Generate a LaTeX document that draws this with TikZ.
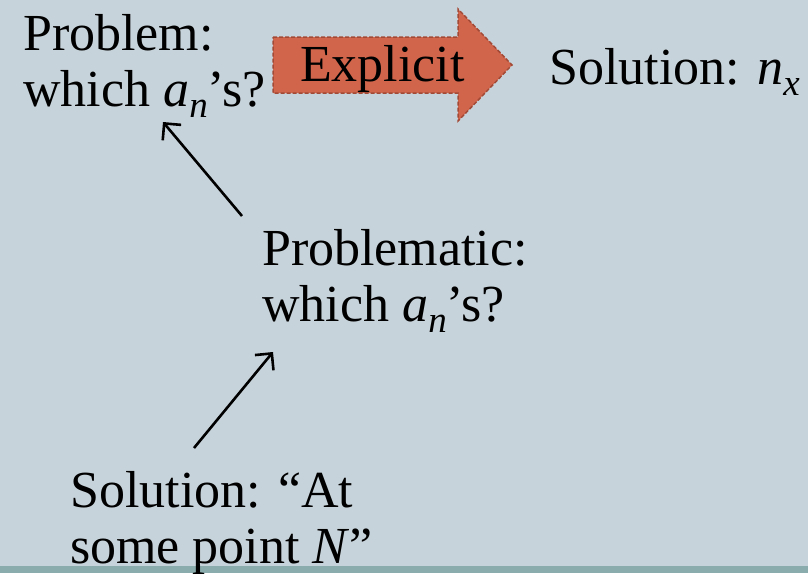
\documentclass[tikz,border=0pt]{standalone}
\usepackage{fontspec}
\setmainfont{Liberation Serif}
\usetikzlibrary{arrows.meta}
\definecolor{bg}{HTML}{C7D3DA}
\definecolor{band}{HTML}{8AACAD}
\definecolor{arrfill}{HTML}{D0654B}
\definecolor{arrdraw}{HTML}{A34A37}
\newcommand{\mysub}[1]{\raisebox{-11pt}{\fontsize{37}{37}\selectfont\itshape #1}}
\begin{document}
\begin{tikzpicture}[x=1pt,y=-1pt,
  txt/.style={anchor=base west, inner sep=0pt, align=left, font=\fontsize{52}{56}\selectfont},
  conn/.style={line width=2.6pt, -{Straight Barb[length=12pt,width=24pt,line width=2.6pt]}},
  bigarrow/.style={fill=arrfill, draw=arrdraw, dash pattern=on 4pt off 2pt, line width=1.5pt}]
\fill[bg] (0,0) rectangle (808,573);
\fill[band] (0,566) rectangle (808,573);
\useasboundingbox (0,0) rectangle (808,573);
% big arrow
\draw[bigarrow] (273,37) -- (458,37) -- (458,9) -- (512,65) -- (458,121) -- (458,93) -- (273,93) -- cycle;
\node[txt] (explicit) at (300,81) {Explicit};
% texts (base anchor = baseline of the last line)
\node[txt] (problem) at (23,106) {Problem:\\which \textit{a}\mysub{n}’s?};
\node[txt] (solnx) at (549,84) {Solution: \textit{n}\mysub{x}};
\node[txt] (problematic) at (262,321) {Problematic:\\which \textit{a}\mysub{n}’s?};
\node[txt] (solN) at (70,563) {Solution: “At\\some point \textit{N}”};
% connectors
\coordinate (c1s) at (242,216);
\coordinate (c1e) at (163,122);
\coordinate (c2s) at (194,448);
\coordinate (c2e) at (273,352);
\draw[conn] (c1s) -- (c1e);
\draw[conn] (c2s) -- (c2e);
\end{tikzpicture}
\end{document}
